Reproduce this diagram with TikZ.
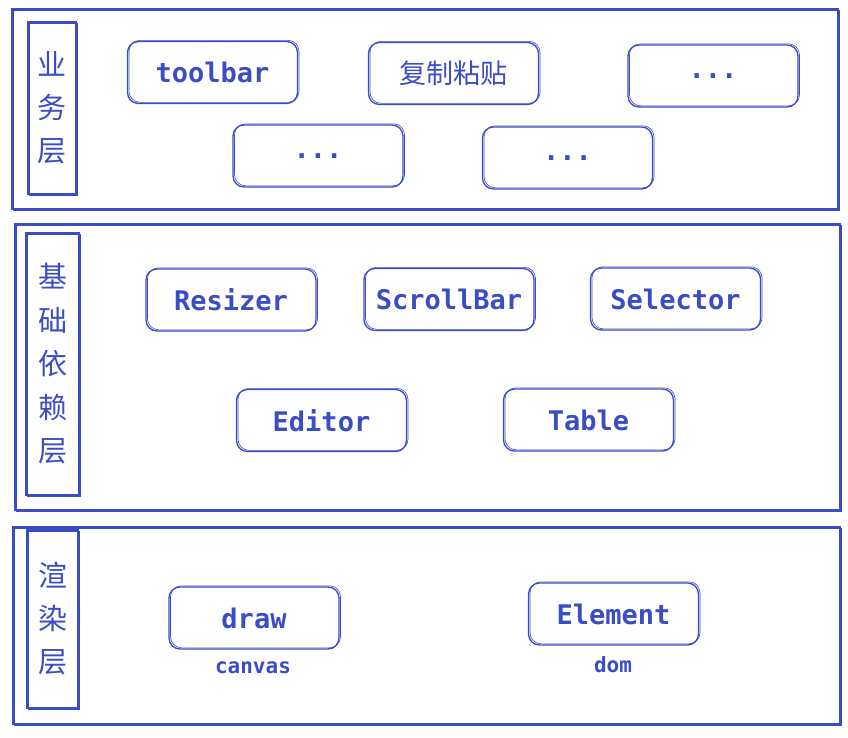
\documentclass[tikz,border=0pt]{standalone}
\usepackage{fontspec}
\setmonofont{DejaVu Sans Mono}
\newfontfamily\cjk{Noto Sans CJK SC}
\definecolor{ink}{RGB}{58,76,198}
\tikzset{
  sk/.style={draw=ink, line width=1.3pt, text=ink},
  layer/.style={sk, rectangle, inner sep=0pt,
    postaction={draw=ink, line width=0.6pt, transform canvas={xshift=1.2pt, yshift=-0.8pt}}},
  lab/.style={layer, cjk},
  item/.style={sk, rounded corners=11pt, inner sep=0pt,
    minimum width=170pt, minimum height=62pt,
    font=\ttfamily\bfseries\fontsize{27}{30}\selectfont,
    postaction={draw=ink, line width=0.6pt, transform canvas={xshift=1.5pt, yshift=1.2pt}}},
  note/.style={text=ink, font=\ttfamily\bfseries\fontsize{21}{24}\selectfont, inner sep=0pt}
}
\begin{document}
\begin{tikzpicture}[x=1pt,y=-1pt]
\useasboundingbox (0,0) rectangle (848,737);
% layers
\node[layer, minimum width=826pt, minimum height=200pt] (L1) at (425,109) {};
\node[layer, minimum width=825pt, minimum height=286pt] (L2) at (427.5,367) {};
\node[layer, minimum width=827pt, minimum height=197pt] (L3) at (426.5,625.5) {};
% labels
\node[layer, minimum width=48pt, minimum height=172pt] (T1) at (52,108) {};
\node[text=ink, font=\cjk\fontsize{29}{43}\selectfont, align=center, inner sep=0pt] (T1t) at (T1.center) {业\\务\\层};
\node[layer, minimum width=53pt, minimum height=262pt] (T2) at (52.5,364) {};
\node[text=ink, font=\cjk\fontsize{29}{43.5}\selectfont, align=center, inner sep=0pt] (T2t) at (T2.center) {基\\础\\依\\赖\\层};
\node[layer, minimum width=51pt, minimum height=178pt] (T3) at (52.5,619) {};
\node[text=ink, font=\cjk\fontsize{29}{43}\selectfont, align=center, inner sep=0pt] (T3t) at (T3.center) {渲\\染\\层};
% business layer
\node[item] (toolbar) at (212.5,72.5) {toolbar};
\node[item, font=\cjk\fontsize{27}{30}\selectfont] (copy) at (453.5,73.5) {复制粘贴};
\node[item] (d1) at (713,76) {...};
\node[item] (d2) at (318,156) {...};
\node[item] (d3) at (567.5,158) {...};
% base layer
\node[item] (resizer) at (231,300) {Resizer};
\node[item] (scroll) at (449,299.5) {ScrollBar};
\node[item] (selector) at (675.5,299) {Selector};
\node[item] (editor) at (321.5,420.5) {Editor};
\node[item] (table) at (588.5,420) {Table};
% render layer
\node[item] (draw) at (254,618) {draw};
\node[item] (element) at (613.5,614) {Element};
\node[note] (canvas) at (253,668) {canvas};
\node[note] (dom) at (613,665) {dom};
\end{tikzpicture}
\end{document}
